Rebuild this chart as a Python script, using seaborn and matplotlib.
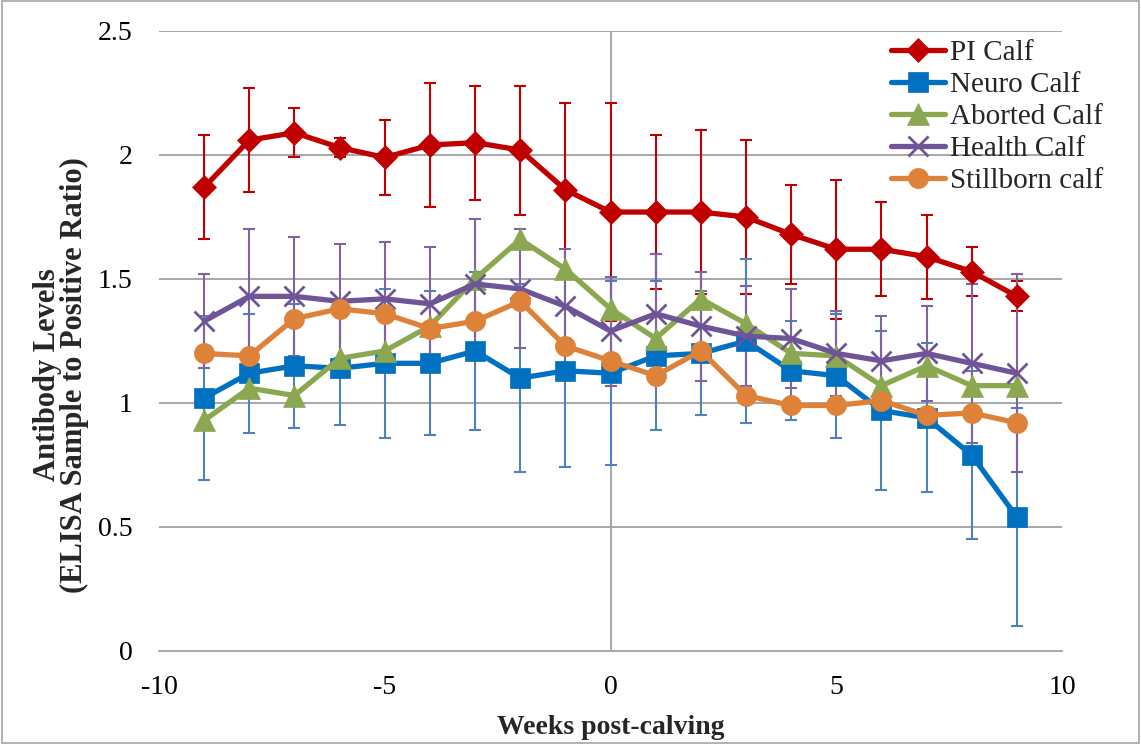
import matplotlib
matplotlib.use("Agg")
import matplotlib.pyplot as plt
import seaborn as sns
import pandas as pd
from matplotlib.patches import Rectangle

# Weeks relative to calving
weeks = [-9, -8, -7, -6, -5, -4, -3, -2, -1, 0, 1, 2, 3, 4, 5, 6, 7, 8, 9]

# Mean S/P ratio per group
pi_mean = [1.87, 2.06, 2.09, 2.03, 1.99, 2.04, 2.05, 2.02, 1.86, 1.77,
           1.77, 1.77, 1.75, 1.68, 1.62, 1.62, 1.59, 1.53, 1.43]
neuro_mean = [1.02, 1.12, 1.15, 1.14, 1.16, 1.16, 1.21, 1.10, 1.13, 1.12,
              1.19, 1.20, 1.25, 1.13, 1.11, 0.97, 0.94, 0.79, 0.54]
aborted_mean = [0.93, 1.06, 1.03, 1.18, 1.21, 1.31, 1.50, 1.66, 1.54, 1.38,
                1.26, 1.42, 1.32, 1.20, 1.19, 1.07, 1.15, 1.07, 1.07]
health_mean = [1.33, 1.43, 1.43, 1.41, 1.42, 1.40, 1.48, 1.46, 1.39, 1.29,
               1.36, 1.31, 1.27, 1.26, 1.20, 1.17, 1.20, 1.16, 1.12]
stillborn_mean = [1.20, 1.19, 1.34, 1.38, 1.36, 1.30, 1.33, 1.41, 1.23, 1.17,
                  1.11, 1.21, 1.03, 0.99, 0.99, 1.01, 0.95, 0.96, 0.92]

# Error bar half-widths
pi_err = [0.21, 0.21, 0.10, 0.04, 0.15, 0.25, 0.23, 0.26, 0.35, 0.44,
          0.31, 0.33, 0.31, 0.20, 0.28, 0.19, 0.17, 0.10, 0.06]
neuro_err = [0.33, 0.24, 0.25, 0.23, 0.30, 0.29, 0.32, 0.38, 0.39, 0.37,
             0.30, 0.25, 0.33, 0.20, 0.25, 0.32, 0.30, 0.34, 0.44]
health_err = [0.19, 0.27, 0.24, 0.23, 0.23, 0.23, 0.26, 0.24, 0.23, 0.22,
              0.24, 0.22, 0.20, 0.20, 0.17, 0.18, 0.19, 0.32, 0.40]

x_ticks = [-10, -5, 0, 5, 10]
y_ticks = [0, 0.5, 1, 1.5, 2, 2.5]
y_tick_labels = ["0", "0.5", "1", "1.5", "2", "2.5"]

sns.set_theme(style="white")
plt.rcParams["font.family"] = ["Liberation Serif", "DejaVu Serif"]

fig = plt.figure(figsize=(11.41, 7.44), dpi=100)
ax = fig.add_axes([159 / 1141, 1 - 651 / 744, 903 / 1141, 620 / 744])

series = [
    ("PI Calf", pi_mean, pi_err, "#C00000", "#C00000", "D", 12.5, 0),
    ("Neuro Calf", neuro_mean, neuro_err, "#0070C0", "#4F81BD", "s", 14, 0),
    ("Aborted Calf", aborted_mean, None, "#8BA74F", None, "^", 15.5, 0),
    ("Health Calf", health_mean, health_err, "#6F5597", "#8064A2", "x", 15, 2),
    ("Stillborn calf", stillborn_mean, None, "#DE823A", None, "o", 14.5, 0),
]

# Error bars sit underneath all the lines
for name, mean, err, color, ecolor, marker, ms, mew in series:
    if err is not None:
        ax.errorbar(weeks, mean, yerr=err, fmt="none", ecolor=ecolor,
                    elinewidth=1.5, capsize=4.5, capthick=1.5, zorder=2)

for i, (name, mean, err, color, ecolor, marker, ms, mew) in enumerate(series):
    df = pd.DataFrame({"week": weeks, "value": mean})
    sns.lineplot(data=df, x="week", y="value", ax=ax, color=color,
                 marker=marker, markersize=ms, markeredgecolor=color,
                 markerfacecolor=color, markeredgewidth=mew if mew else 0.5,
                 linewidth=3.8, label=name, zorder=3 + i)

# Axes styling
grid_c = "#A0A0A0"
ax.set_xlim(-10, 10)
ax.set_ylim(0, 2.5)
ax.set_xticks(x_ticks)
ax.set_xticklabels([str(t) for t in x_ticks])
ax.set_yticks(y_ticks)
ax.set_yticklabels(y_tick_labels)
for y in y_ticks[1:]:
    ax.axhline(y, color=grid_c, lw=1.3, zorder=1)
ax.axvline(0, color=grid_c, lw=1.3, zorder=1)
for s in ["top", "right", "left"]:
    ax.spines[s].set_visible(False)
ax.spines["bottom"].set_color(grid_c)
ax.spines["bottom"].set_linewidth(1.3)
ax.tick_params(axis="x", direction="out", length=6, width=1.3, color=grid_c,
               labelsize=20, pad=11, labelcolor="black")
ax.tick_params(axis="y", length=0, labelsize=20, pad=19, labelcolor="black")

ax.set_xlabel("Weeks post-calving", fontsize=20, fontweight="bold", labelpad=11)
ax.set_ylabel("Antibody Levels\n(ELISA Sample to Positive Ratio)", fontsize=22,
              fontweight="bold", linespacing=0.9)
ax.yaxis.set_label_coords(-0.0775, 0.445)

leg = ax.legend(loc="upper left", bbox_to_anchor=(891 / 1141, 1 - 40 / 744),
                bbox_transform=fig.transFigure, frameon=False, fontsize=21,
                handlelength=1.85, handletextpad=0.17, labelspacing=0.19,
                borderpad=0, borderaxespad=0)

# Thin frame around the whole figure
fig.patches.append(Rectangle((0.002, 0.002), 0.996, 0.996, transform=fig.transFigure,
                             fill=False, edgecolor="#A6A6A6", lw=1.2))

fig.savefig("out.png", dpi=100)
